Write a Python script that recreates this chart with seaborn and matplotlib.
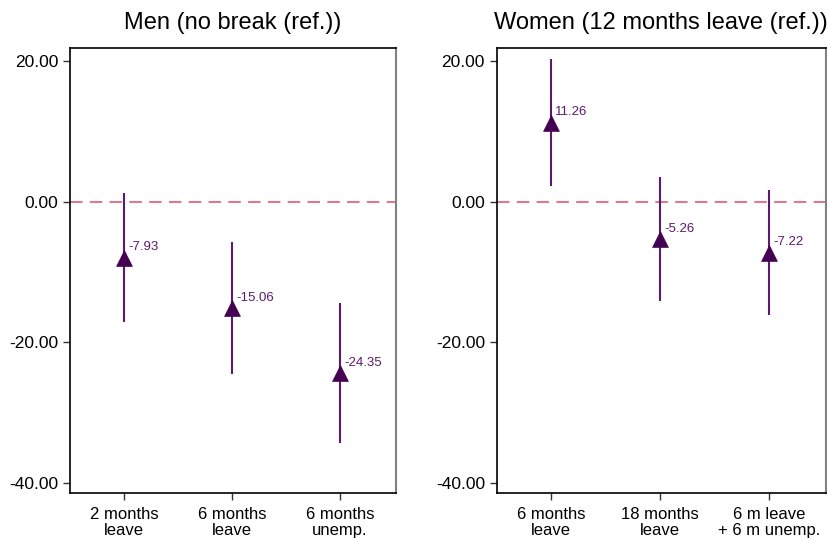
import matplotlib
matplotlib.use("Agg")
import matplotlib.pyplot as plt
import seaborn as sns
import pandas as pd
from matplotlib.ticker import FormatStrFormatter

men_cats = ["2 months\nleave", "6 months\nleave", "6 months\nunemp."]
men_est = [-7.93, -15.06, -24.35]
men_lo = [-17.1, -24.5, -34.35]
men_hi = [1.25, -5.65, -14.35]

women_cats = ["6 months\nleave", "18 months\nleave", "6 m leave\n+ 6 m unemp."]
women_est = [11.26, -5.26, -7.22]
women_lo = [2.25, -14.05, -16.1]
women_hi = [20.3, 3.55, 1.7]

titles = ["Men (no break (ref.))", "Women (12 months leave (ref.))"]
yticks = [20, 0, -20, -40]

sns.set_theme(style="ticks")
plt.rcParams['font.family'] = ['Liberation Sans', 'DejaVu Sans']
plt.rcParams['text.color'] = 'black'
plt.rcParams['xtick.color'] = 'black'
plt.rcParams['ytick.color'] = 'black'

fig = plt.figure(figsize=(8.28, 5.4), dpi=100)
ax1 = fig.add_axes([0.0845, 0.087, 0.394, 0.824])
ax2 = fig.add_axes([0.600, 0.087, 0.397, 0.824])

mark_col = "#440154"
line_col = "#5a1a6e"
text_col = "#5b1a6e"

for ax, cats, est, lo, hi, title in [
    (ax1, men_cats, men_est, men_lo, men_hi, titles[0]),
    (ax2, women_cats, women_est, women_lo, women_hi, titles[1]),
]:
    df = pd.DataFrame({"cat": cats, "est": est, "lo": lo, "hi": hi})
    df["x"] = range(len(cats))
    ax.axhline(0, color="#de7a8d", lw=1.5, ls=(0, (6, 3.5)), zorder=1)
    ax.vlines(df["x"], df["lo"], df["hi"], color=line_col, lw=1.5, zorder=2)
    sns.scatterplot(data=df, x="x", y="est", marker="^", s=130, color=mark_col,
                    edgecolor=mark_col, linewidth=0.5, ax=ax, zorder=3, legend=False)
    for xi, e in zip(df["x"], df["est"]):
        ax.annotate(f"{e:.2f}", (xi, e), xytext=(3, 3), textcoords="offset points",
                    ha="left", va="bottom", fontsize=9.5, color=text_col)
    ax.set_xlim(-0.5, 2.52)
    ax.set_ylim(-41.4, 21.85)
    ax.set_xticks(range(len(cats)))
    ax.set_xticklabels(cats, fontsize=12, linespacing=1.05)
    ax.set_yticks(yticks)
    ax.yaxis.set_major_formatter(FormatStrFormatter("%.2f"))
    ax.tick_params(axis="y", labelsize=12.5, length=5, width=1, color="#333333")
    ax.tick_params(axis="x", length=5, width=1, color="#333333", pad=5)
    ax.set_xlabel("")
    ax.set_ylabel("")
    ax.set_title(title, fontsize=17, pad=14, color="black")
    for sp in ax.spines.values():
        sp.set_visible(True)
        sp.set_color("black")
        sp.set_linewidth(1.2)
    ax.spines["right"].set_color("#808080")
    ax.spines["right"].set_linewidth(1.5)

fig.savefig("out.png", dpi=100)
